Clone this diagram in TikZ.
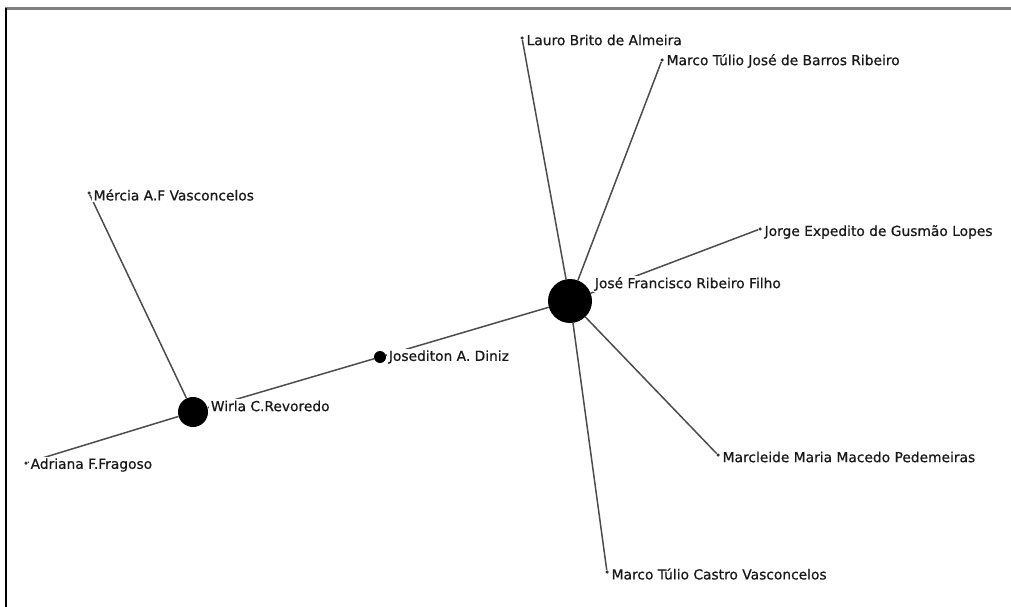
\documentclass[tikz,border=0pt]{standalone}
\usepackage{fontspec}
\setmainfont{DejaVu Sans}
\newfontfamily\namefont{DejaVu Sans}[FakeBold=0.6]
\usetikzlibrary{positioning}

\tikzset{
    actor/.style={circle, fill=black, draw=none, inner sep=0pt, minimum size=#1},
    leaf/.style={circle, fill=black!80, draw=none, inner sep=0pt, minimum size=3.5pt},
    tie/.style={draw=black!70, line width=1.5pt},
    who/.style={fill=white, inner sep=1.5pt, text=black!90, font=\namefont\fontsize{13.8}{15}\selectfont},
}

\begin{document}
\begin{tikzpicture}[x=1pt, y=-1pt]
    \useasboundingbox (0,0) rectangle (1011,607);
    % frame
    \draw[gray, line width=2.2pt] (5,8.5) -- (1011,8.5);
    \draw[black, line width=1.5pt] (6,8) -- (6,607);

    % actors
    \node[actor=44pt] (jose) at (570,301) {};
    \node[actor=12pt] (josediton) at (380,357) {};
    \node[actor=30pt] (wirla) at (193,412) {};
    \node[leaf] (lauro) at (522,38) {};
    \node[leaf] (barros) at (662,60) {};
    \node[leaf] (jorge) at (760,229) {};
    \node[leaf] (marcleide) at (718,455) {};
    \node[leaf] (castro) at (607,572) {};
    \node[leaf] (mercia) at (89,193) {};
    \node[leaf] (adriana) at (26,463) {};

    % ties
    \foreach \other in {lauro,barros,jorge,marcleide,castro,josediton}
        \draw[tie] (jose) -- (\other);
    \foreach \other in {josediton,mercia,adriana}
        \draw[tie] (wirla) -- (\other);

    % names
    \node[who, right=1pt of jose, yshift=17pt] (jose-l) {José Francisco Ribeiro Filho};
    \node[who, right=1pt of josediton] (josediton-l) {Josediton A. Diniz};
    \node[who, right=1pt of wirla, yshift=6pt] (wirla-l) {Wirla C.Revoredo};
    \node[who, right=1pt of lauro, yshift=-2pt] (lauro-l) {Lauro Brito de Almeira};
    \node[who, right=1pt of barros, yshift=-1pt] (barros-l) {Marco Túlio José de Barros Ribeiro};
    \node[who, right=1pt of jorge, yshift=-3pt] (jorge-l) {Jorge Expedito de Gusmão Lopes};
    \node[who, right=1pt of marcleide, yshift=-2pt] (marcleide-l) {Marcleide Maria Macedo Pedemeiras};
    \node[who, right=1pt of castro, yshift=-2pt] (castro-l) {Marco Túlio Castro Vasconcelos};
    \node[who, right=1pt of mercia, yshift=-2pt] (mercia-l) {Mércia A.F Vasconcelos};
    \node[who, right=1pt of adriana, yshift=-2pt] (adriana-l) {Adriana F.Fragoso};
\end{tikzpicture}
\end{document}
